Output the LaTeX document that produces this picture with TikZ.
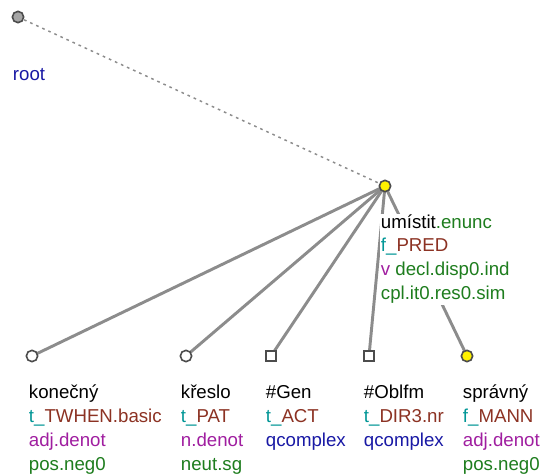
\documentclass[tikz,border=0pt]{standalone}
\usepackage{fontspec}
\setmainfont{Liberation Sans}
\usetikzlibrary{backgrounds}
\definecolor{edgegray}{RGB}{140,140,140}
\definecolor{functeal}{RGB}{0,150,150}
\definecolor{funcbrown}{RGB}{140,50,35}
\definecolor{pospurple}{RGB}{160,30,160}
\definecolor{lemmablue}{RGB}{25,25,165}
\definecolor{gramgreen}{RGB}{30,125,30}
\newcommand{\fn}[2]{\textcolor{functeal}{#1}\textcolor{funcbrown}{#2}}
\newcommand{\gr}[1]{\textcolor{gramgreen}{#1}}
\newcommand{\ps}[1]{\textcolor{pospurple}{#1}}

\begin{document}
\begin{tikzpicture}[x=0.75pt,y=-0.75pt,
    tnode/.style={circle,draw=black!70,line width=1.2pt,fill=white,minimum size=8.5pt,inner sep=0pt},
    qnode/.style={rectangle,draw=black!70,line width=1.2pt,fill=white,minimum size=7.5pt,inner sep=0pt},
    tedge/.style={draw=edgegray,line width=2.2pt},
    lbl/.style={anchor=base west,align=left,fill=white,inner sep=0.5pt,
        font=\fontsize{14}{18}\selectfont}]
        \useasboundingbox (0,0) rectangle (543,474);
        % labels (anchored at the baseline of their last line)
        \node[lbl] (rl) at (12,81) {\textcolor{lemmablue}{root}};
        \node[lbl] (vl) at (380,300) {umístit\gr{.enunc}\\\fn{f\_}{PRED}\\\ps{v} \gr{decl.disp0.ind}\\\gr{cpl.it0.res0.sim}};
        \node[lbl] (al) at (28,470) {konečný\\\fn{t\_}{TWHEN.basic}\\\ps{adj.denot}\\\gr{pos.neg0}};
        \node[lbl] (bl) at (180,470) {křeslo\\\fn{t\_}{PAT}\\\ps{n.denot}\\\gr{neut.sg}};
        \node[lbl] (cl) at (265,446) {\#Gen\\\fn{t\_}{ACT}\\\textcolor{lemmablue}{qcomplex}};
        \node[lbl] (dl) at (363,446) {\#Oblfm\\\fn{t\_}{DIR3.nr}\\\textcolor{lemmablue}{qcomplex}};
        \node[lbl] (el) at (462,470) {správný\\\fn{f\_}{MANN}\\\ps{adj.denot}\\\gr{pos.neg0}};
        % tree nodes
        \node[tnode,fill=black!35] (root) at (18,17) {};
        \node[tnode,fill=yellow] (umistit) at (385,186) {};
        \node[tnode] (konecny) at (32,356) {};
        \node[tnode] (kreslo) at (186,356) {};
        \node[qnode] (gen) at (271,356) {};
        \node[qnode] (oblfm) at (369,356) {};
        \node[tnode,fill=yellow] (spravny) at (467,356) {};
        % edges
        \begin{pgfonlayer}{background}
        \draw[draw=edgegray,line width=1.1pt,dash pattern=on 2pt off 3pt] (root.center) -- (umistit.center);
        \foreach \t in {konecny,kreslo,gen,oblfm,spravny}
            \draw[tedge] (umistit.center) -- (\t.center);
        \end{pgfonlayer}
    \end{tikzpicture}
\end{document}
